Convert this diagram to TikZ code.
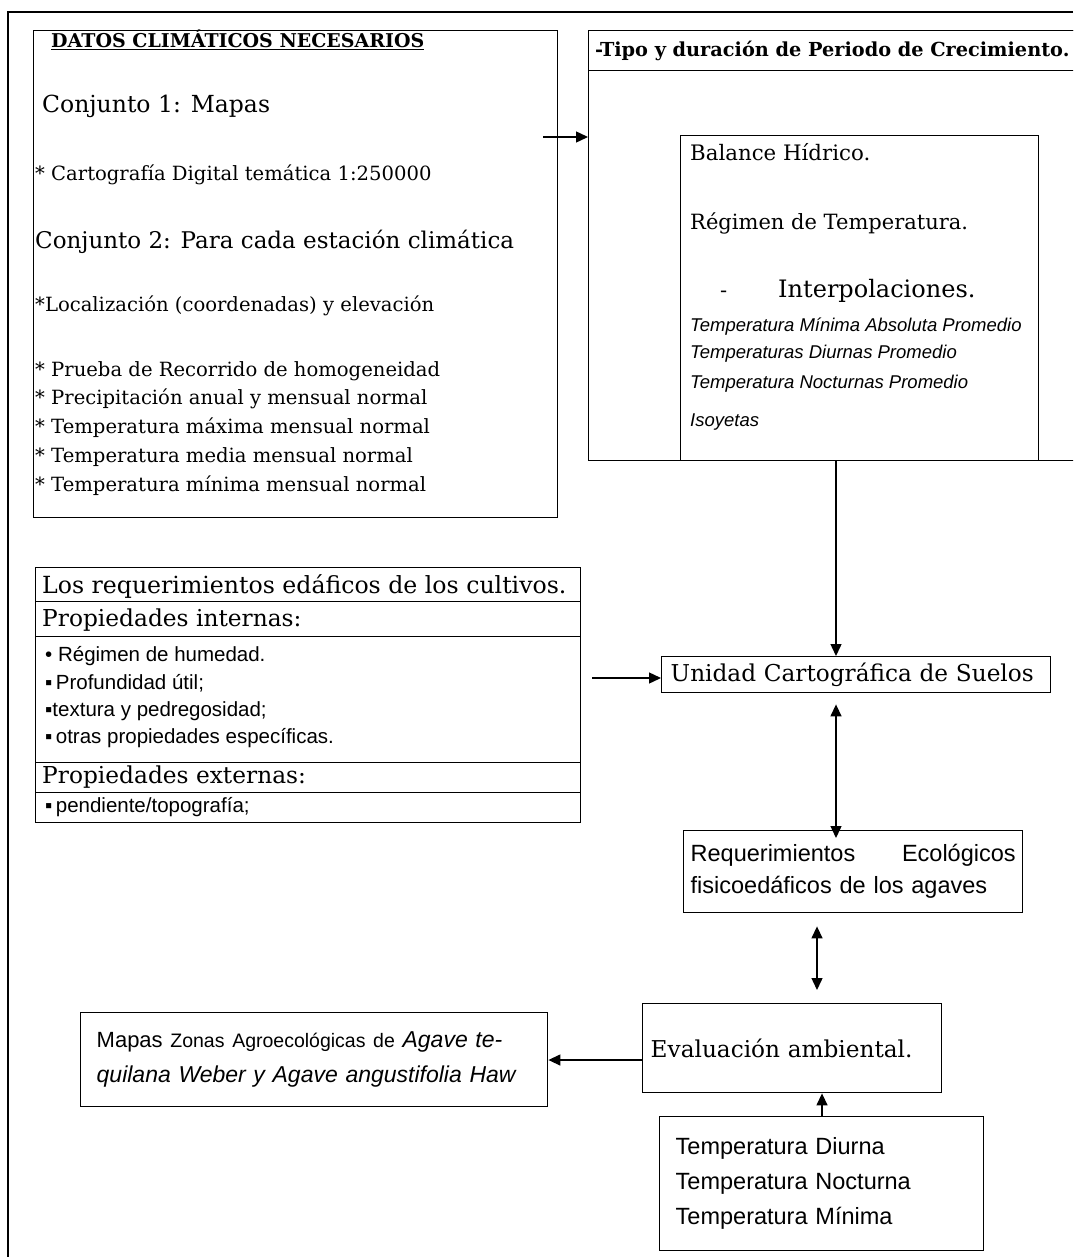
\documentclass[tikz,border=0pt]{standalone}
\usepackage{fontspec}
\setmainfont{DejaVu Serif}
\setsansfont{Liberation Sans}
\usetikzlibrary{arrows.meta,positioning}
\tikzset{
  box/.style={draw,line width=1.4pt,anchor=north west,inner sep=0pt},
  txt/.style={anchor=base west,inner sep=0pt},
  bigtxt/.style={font=\fontsize{23.3}{27}\selectfont},
  midtxt/.style={font=\fontsize{19.6}{22}\selectfont},
  sanstxt/.style={font=\sffamily\fontsize{23.5}{35}\selectfont},
  itsans/.style={font=\sffamily\itshape\fontsize{18.5}{20}\selectfont},
  bultxt/.style={font=\sffamily\fontsize{20.5}{22}\selectfont},
  headtxt/.style={font=\bfseries\fontsize{19.3}{22}\selectfont}
}
\tikzstyle{arrow} = [line width=1.4pt,-{Triangle[length=12pt,width=11pt]}]
\tikzstyle{dblarrow} = [line width=1.4pt,{Triangle[length=12pt,width=11pt]}-{Triangle[length=12pt,width=11pt]}]

\begin{document}
\begin{tikzpicture}[x=1pt,y=-1pt]
  \useasboundingbox (0,0) rectangle (1073,1257);
  \clip (0,0) rectangle (1073,1257);
  \draw[line width=1.4pt] (1073,12) -- (8,12) -- (8,1257);

  % datos climaticos
  \node[box,minimum width=524pt,minimum height=487pt] (datos) at (33,30) {};
  \node[txt,font=\bfseries\fontsize{19}{22}\selectfont] (datostit) at (51,48) {\underline{DATOS CLIMÁTICOS NECESARIOS}};
  \node[txt,font=\fontsize{23.5}{27}\selectfont] (conj1) at (42,113) {Conjunto 1: Mapas};
  \node[txt,midtxt] (carto) at (35,181) {* Cartografía Digital temática 1:250000};
  \node[txt,font=\fontsize{23}{27}\selectfont] (conj2) at (35,248) {Conjunto 2: Para cada estación climática};
  \node[txt,midtxt] (local) at (35,311) {*Localización (coordenadas) y elevación};
  \foreach \yy/\tx [count=\i] in {376/{Prueba de Recorrido de homogeneidad},
      404/{Precipitación anual y mensual normal},
      433/{Temperatura máxima mensual normal},
      462/{Temperatura media mensual normal},
      491/{Temperatura mínima mensual normal}}
    \node[txt,midtxt] (lista\i) at (35,\yy) {* \tx};

  % periodo de crecimiento
  \node[box,minimum width=502pt,minimum height=430pt] (tipo) at (588,30) {};
  \node[box,minimum width=502pt,minimum height=40pt] (tipohead) at (588,30) {};
  \node[txt,headtxt] (tipotit) at (595,57) {-Tipo y duración de Periodo de Crecimiento.};
  \node[box,minimum width=358pt,minimum height=325pt] (balance) at (680,135) {};
  \node[txt,font=\fontsize{21.3}{24}\selectfont] (bal1) at (690,161) {Balance Hídrico.};
  \node[txt,font=\fontsize{21}{24}\selectfont] (bal2) at (690,230) {Régimen de Temperatura.};
  \node[txt,font=\fontsize{21}{24}\selectfont] (bal3) at (720,297) {-};
  \node[txt,font=\fontsize{24}{24}\selectfont] (bal4) at (778,297) {Interpolaciones.};
  \foreach \yy/\tx [count=\i] in {331/{Temperatura Mínima Absoluta Promedio},
      358/{Temperaturas Diurnas Promedio},
      388/{Temperatura Nocturnas Promedio},
      426/{Isoyetas}}
    \node[txt,itsans] (interp\i) at (690,\yy) {\tx};

  % requerimientos edaficos
  \node[box,minimum width=545pt,minimum height=34pt] (soil1) at (35,567) {};
  \node[box,minimum width=545pt,minimum height=35pt] (soil2) at (35,601) {};
  \node[box,minimum width=545pt,minimum height=126pt] (soil3) at (35,636) {};
  \node[box,minimum width=545pt,minimum height=30pt] (soil4) at (35,762) {};
  \node[box,minimum width=545pt,minimum height=30pt] (soil5) at (35,792) {};
  \node[txt,font=\fontsize{23.6}{27}\selectfont] (soiltit) at (42,593) {Los requerimientos edáficos de los cultivos.};
  \node[txt,bigtxt] (intern) at (42,626) {Propiedades internas:};
  \node[txt,bultxt] (bul1) at (45,661) {•\ Régimen de humedad.};
  \node[txt,bultxt] (bul2) at (45,689) {▪\,Profundidad útil;};
  \node[txt,bultxt] (bul3) at (45,716) {▪textura y pedregosidad;};
  \node[txt,bultxt] (bul4) at (45,743) {▪\,otras propiedades específicas.};
  \node[txt,bigtxt] (extern) at (42,783) {Propiedades externas:};
  \node[txt,bultxt] (bul5) at (45,812) {▪\,pendiente/topografía;};

  % cadena de evaluacion
  \node[box,minimum width=389pt,minimum height=36pt,inner xsep=9pt,text width=371pt,
    align=left,font=\fontsize{23.2}{25}\selectfont] (unidad) at (661,656) {Unidad Cartográfica de Suelos};
  \node[box,minimum width=339pt,minimum height=82pt,inner xsep=7pt,text width=325pt,
    align=left,font=\sffamily\fontsize{23.5}{32}\selectfont] (req) at (683,830)
    {Requerimientos\hfill Ecológicos\\fisicoedáficos de los agaves};
  \node[box,minimum width=299pt,minimum height=89pt,inner xsep=8pt,text width=283pt,
    align=left,font=\fontsize{23.2}{25}\selectfont] (eval) at (642,1003) {\raisebox{-7pt}{Evaluación ambiental.}};
  \node[box,minimum width=467pt,minimum height=94pt,inner xsep=16pt,text width=435pt,
    align=left,font=\sffamily\fontsize{23}{35}\selectfont] (mapas) at (80,1012)
    {{\fontsize{22}{35}\selectfont Mapas} {\fontsize{19.5}{35}\selectfont Zonas Agroecológicas de}
     \textit{Agave te-}\\\textit{quilana Weber y Agave angustifolia Haw}};
  \node[box,minimum width=324pt,minimum height=134pt,inner xsep=16pt,text width=292pt,
    align=left,sanstxt] (temp) at (659,1116)
    {Temperatura Diurna\\Temperatura Nocturna\\Temperatura Mínima};

  % conectores
  \coordinate (a1) at (543,137);
  \draw[arrow] (a1) -- (a1 -| tipo.west);
  \coordinate (a2) at (836,0);
  \draw[arrow] (balance.south -| a2) -- (unidad.north -| a2);
  \coordinate (a3) at (592,678);
  \draw[arrow] (a3) -- (a3 -| unidad.west);
  \coordinate (u1) at (unidad.south -| a2);
  \coordinate (r1) at (req.north -| a2);
  \draw[dblarrow] ([yshift=-11pt]u1) -- ([yshift=-8pt]r1);
  \coordinate (a4) at (817,0);
  \coordinate (r2) at (req.south -| a4);
  \coordinate (e1) at (eval.north -| a4);
  \draw[dblarrow] ([yshift=-13pt]r2) -- ([yshift=13pt]e1);
  \coordinate (a5) at (642,1060);
  \draw[arrow] (a5) -- (a5 -| mapas.east);
  \coordinate (a6) at (822,0);
  \draw[arrow] (temp.north -| a6) -- (eval.south -| a6);
\end{tikzpicture}
\end{document}
